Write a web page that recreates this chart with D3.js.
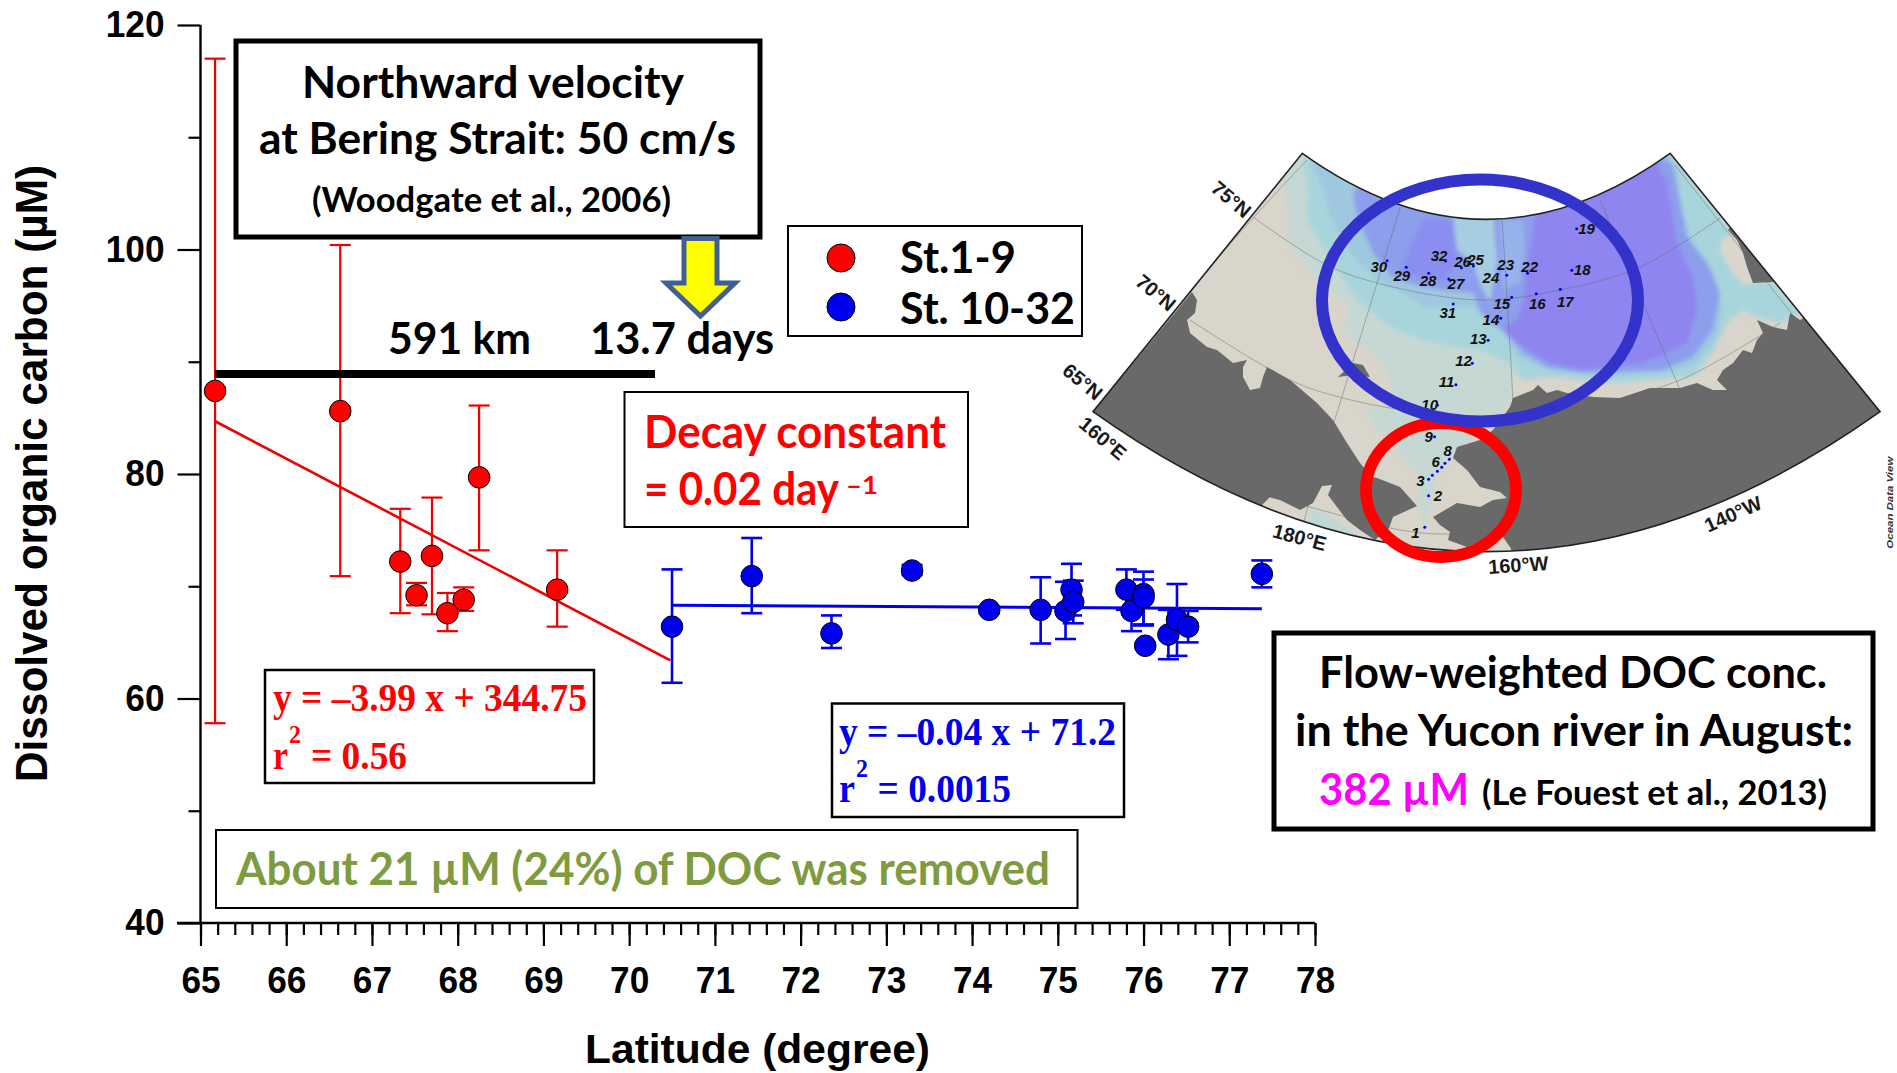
<!DOCTYPE html>
<html><head><meta charset="utf-8">
<script src="https://cdnjs.cloudflare.com/ajax/libs/d3/7.8.5/d3.min.js"></script>
<style>html,body{margin:0;background:#fff}svg{display:block}</style></head>
<body><svg id="c" width="1897" height="1073"></svg>
<script>
const redLat=[65.17,66.63,67.33,67.52,67.7,67.88,68.07,68.25,69.16];
const redDoc=[87.4,85.6,72.2,69.2,72.7,67.6,68.8,79.7,69.7];
const redLow=[57.8,70.9,67.6,68.3,67.5,66.0,67.8,73.2,66.4];
const redHigh=[117.0,100.4,76.9,70.3,77.9,69.4,69.9,86.1,73.2];
const blueLat=[70.5,71.43,72.36,73.3,74.2,74.8,75.09,75.16,75.18,75.8,75.86,76.0,76.0,76.02,76.29,76.39,76.52,77.38];
const blueDoc=[66.4,70.9,65.8,71.4,67.9,67.9,67.8,69.7,68.6,69.7,67.8,69.3,69.0,64.7,65.7,67.0,66.4,71.1];
const blueLow=[61.4,67.6,64.5,71.0,67.6,64.9,65.3,67.4,66.7,67.9,66.0,66.6,66.5,64.5,63.5,63.8,65.0,69.9];
const blueHigh=[71.5,74.3,67.4,71.9,68.2,70.8,70.4,72.0,70.5,71.5,69.5,71.3,70.6,64.9,67.9,70.2,67.8,72.3];
const redFit=[[65.17,84.7],[70.48,63.4]];
const blueFit=[[70.5,68.3],[77.38,68.0]];
const xTicks=d3.range(65,79), xMinor=d3.range(65,78.01,0.2);
const yTicks=[40,60,80,100,120], yMinor=[50,70,90,110];
const legendItems=["St.1-9","St. 10-32"];

// inset map geometry (page pixels)
const fanPath="M480,70 Q816,466 1153,70 L1537,845 Q817,1685 97,845 Z";
const paleShelf=[[1303,153],[1283,180],[1287,213],[1290,247],[1317,280],[1350,307],[1343,330],[1383,363],[1393,390],[1395,405],[1363,410],[1387,440],[1420,477],[1417,500],[1425,527],[1433,500],[1437,477],[1453,453],[1480,437],[1510,403],[1513,383],[1530,350],[1500,150]];
const paleSW=[[1313,507],[1360,537],[1330,548],[1307,530]];
const teal=[[1303,160],[1308,193],[1307,220],[1330,260],[1357,300],[1390,327],[1423,340],[1457,347],[1480,350],[1510,363],[1523,380],[1550,377],[1580,380],[1613,383],[1653,380],[1693,377],[1713,353],[1727,323],[1743,310],[1757,317],[1780,323],[1800,313],[1773,282],[1753,283],[1743,273],[1727,250],[1730,230],[1713,207],[1670,153],[1500,130]];
const paleBlue=[[1310,160],[1323,187],[1330,217],[1353,257],[1380,283],[1410,297],[1423,307],[1473,307],[1487,323],[1500,330],[1517,357],[1547,370],[1613,377],[1667,373],[1697,363],[1717,337],[1723,307],[1713,270],[1693,243],[1683,213],[1677,170],[1670,153],[1500,130]];
const midBlue=[[1353,193],[1357,217],[1373,253],[1393,278],[1423,287],[1443,290],[1473,293],[1480,310],[1490,323],[1503,330],[1523,353],[1547,367],[1580,373],[1663,370],[1693,357],[1713,330],[1720,293],[1707,263],[1687,237],[1680,200],[1672,163],[1600,130],[1400,130]];
const deepLeft=[[1423,220],[1410,247],[1400,273],[1443,280],[1457,263],[1453,220]];
const paleCentre=[[1453,215],[1457,250],[1473,263],[1480,283],[1490,303],[1497,260],[1493,215]];
const centreRight=[[1500,220],[1503,290],[1520,283],[1525,250],[1523,220]];
const purple=[[1537,205],[1530,250],[1523,303],[1517,320],[1503,330],[1523,347],[1550,363],[1583,370],[1640,363],[1660,357],[1687,343],[1697,310],[1693,277],[1677,243],[1667,183],[1650,150],[1560,170]];
const coastBeige=[[1723,237],[1720,250],[1733,273],[1745,285],[1753,283],[1747,267],[1737,240]];
const westLand=[[1050,412],[1093,412],[1192,292],[1197,300],[1195,313],[1187,320],[1190,333],[1207,347],[1217,350],[1233,363],[1247,360],[1243,367],[1243,377],[1250,390],[1260,388],[1263,377],[1267,367],[1290,380],[1317,403],[1333,420],[1347,443],[1360,463],[1372,477],[1377,478],[1400,487],[1417,506],[1393,517],[1389,528],[1375,540],[1360,530],[1347,520],[1337,507],[1328,495],[1332,485],[1322,486],[1313,503],[1300,510],[1280,500],[1270,497],[1262,505],[1262,620],[1050,620]];
const eastLand=[[1510,407],[1513,398],[1533,390],[1538,385],[1547,393],[1557,390],[1567,393],[1593,397],[1620,398],[1650,388],[1680,388],[1697,383],[1713,390],[1727,390],[1717,380],[1723,370],[1733,363],[1743,350],[1752,353],[1757,340],[1763,333],[1757,320],[1773,327],[1787,330],[1790,313],[1800,320],[1805,317],[1880,412],[1950,412],[1950,620],[1513,620],[1513,553],[1510,547],[1503,537],[1487,538],[1467,547],[1448,540],[1450,532],[1440,525],[1433,517],[1457,503],[1480,507],[1493,500],[1507,498],[1500,492],[1480,487],[1467,470],[1453,458],[1457,447],[1480,440],[1493,430]];
const eastLand2=[[1728,230],[1737,240],[1743,253],[1747,267],[1753,283],[1773,282],[1800,270],[1750,200]];
const wrangel=[[1338,377],[1353,363],[1363,365],[1370,377],[1353,375]];
const parallels=[
 [[1253,217],[1323,263],[1377,283],[1480,300],[1560,290],[1640,267],[1720,218]],
 [[1190,320],[1290,380],[1343,398],[1423,413],[1500,418],[1580,407],[1680,380],[1780,323]],
 [[1105,398],[1220,480],[1310,507],[1413,532],[1480,533],[1580,523],[1700,490],[1800,450],[1870,400]]];
const meridians=[[[1400,208],[1377,283],[1340,403],[1307,510],[1300,540]],[[1502,220],[1512,383],[1518,547]],[[1600,200],[1643,303],[1693,420],[1726,498]],[[1307,160],[1190,293],[1120,413]],[[1675,165],[1865,407]]];
const stationLabels=["19","32","26","25","23","22","18","30","29","28","27","24","15","16","17","31","14","13","12","11","10","9","8","6","3","2","1"];
const labelX=[1000,730,773,797,852,896,992,620,662,710,761,825,845,910,961,746,825,802,775,744,713,711,746,724,696,728,687];
const labelY=[295,377,394,387,403,408,418,410,436,452,460,442,521,521,513,547,569,626,692,755,823,919,960,994,1051,1096,1207];
const dotX=[982,742,771,793,854,892,973,635,670,711,748,863,908,952,756,843,820,791,761,727,722,749,741,735,727,718,711,711,704];
const dotY=[296,393,413,408,436,430,421,392,412,430,447,502,491,478,522,565,631,700,764,826,920,988,1000,1012,1024,1036,1048,1097,1192];
const mapLabels=["75°N","70°N","65°N","160°E","180°E","160°W","140°W"];
const mapLabelX=[350,212,78,115,475,875,1268];
const mapLabelY=[208,488,755,925,1222,1305,1152];
const mapLabelRot=[40,40,40,40,15,-4,-24];

const svg=d3.select("#c");
const x=d3.scaleLinear().domain([65,78]).range([200.5,1315]);
const y=d3.scaleLinear().domain([40,120]).range([923,25]);
const mx=d3.scaleLinear().domain([0,1568]).range([1040,1897]);
const my=d3.scaleLinear().domain([0,1410]).range([130,600]);
const SANS="'Liberation Sans',Arial,sans-serif", CAL="Lato,'Open Sans',sans-serif", SER="'Liberation Serif',serif";

function txt(s,x0,x1,base,size,opt={}){
  return svg.append("text").attr("x",x0).attr("y",base).attr("textLength",x1-x0).attr("lengthAdjust","spacingAndGlyphs")
   .attr("font-family",opt.font||CAL).attr("font-weight",opt.weight||"bold").attr("font-size",size).attr("fill",opt.fill||"#000").text(s);
}
function box(x0,y0,x1,y1,sw){svg.append("rect").attr("x",x0).attr("y",y0).attr("width",x1-x0).attr("height",y1-y0).attr("fill","#fff").attr("stroke","#000").attr("stroke-width",sw);}

// ---- map
const defs=svg.append("defs");
const mapT=`translate(${mx(0)},${my(0)}) scale(${mx(1)-mx(0)},${my(1)-my(0)})`;
defs.append("clipPath").attr("id","fan").append("path").attr("d",fanPath).attr("transform",mapT);
defs.append("filter").attr("id","sb").attr("x","-5%").attr("y","-5%").attr("width","110%").attr("height","110%").append("feGaussianBlur").attr("stdDeviation",2);
defs.append("filter").attr("id","lb").attr("x","-5%").attr("y","-5%").attr("width","110%").attr("height","110%").append("feGaussianBlur").attr("stdDeviation",0.5);
const mapG=svg.append("g").attr("clip-path","url(#fan)");
const poly=d3.line().curve(d3.curveLinearClosed);
const open=d3.line().curve(d3.curveCatmullRom.alpha(.5));
mapG.append("path").attr("d",fanPath).attr("transform",mapT).attr("fill","#d9d5cb");
const seaG=mapG.append("g").attr("filter","url(#sb)");
[[paleShelf,"#c6d8d3"],[paleSW,"#bcd9d6"],[teal,"#a8d5dc"],[paleBlue,"#9fc8e0"],[midBlue,"#8c9eec"],[paleCentre,"#a6cde2"],[centreRight,"#96b2ea"],[deepLeft,"#8a8ef0"],[purple,"#8f85f0"]]
 .forEach(([p,c])=>seaG.append("path").attr("d",poly(p)).attr("fill",c));
seaG.append("path").attr("d",poly(coastBeige)).attr("fill","#dcd6cd");
const landG=mapG.append("g").attr("filter","url(#lb)");
[westLand,eastLand,eastLand2,wrangel].forEach(p=>landG.append("path").attr("d",poly(p)).attr("fill","#696969"));
[...parallels,...meridians].forEach(p=>mapG.append("path").attr("d",open(p)).attr("fill","none").attr("stroke","#666").attr("stroke-opacity",.5).attr("stroke-width",.9));
svg.append("path").attr("d",fanPath).attr("transform",mapT).attr("fill","none").attr("stroke","#222").attr("stroke-width",1.6).attr("vector-effect","non-scaling-stroke");
svg.append("g").selectAll("circle").data(dotX).join("circle").attr("cx",d=>mx(d)).attr("cy",(d,i)=>my(dotY[i])).attr("r",1.5).attr("fill","#0000e0");
svg.append("g").selectAll("text").data(stationLabels).join("text").attr("x",(d,i)=>mx(labelX[i])).attr("y",(d,i)=>my(labelY[i])+5.5)
 .attr("text-anchor","middle").attr("font-family",SANS).attr("font-style","italic").attr("font-weight","bold").attr("font-size",15).attr("fill","#111").text(d=>d);
svg.append("g").selectAll("text").data(mapLabels).join("text")
 .attr("transform",(d,i)=>`translate(${mx(mapLabelX[i])},${my(mapLabelY[i])}) rotate(${mapLabelRot[i]})`).attr("dy",7)
 .attr("text-anchor","middle").attr("font-family",SANS).attr("font-weight","bold").attr("font-size",20).attr("fill","#1a1a1a").text(d=>d);
svg.append("text").attr("transform",`translate(${mx(1561)},${my(1118)}) rotate(-90)`).attr("text-anchor","middle").attr("font-family",SANS).attr("font-style","italic").attr("font-weight","bold").attr("font-size",9).attr("textLength",92).attr("lengthAdjust","spacingAndGlyphs").attr("fill","#333").text("Ocean Data View");
svg.append("ellipse").attr("cx",1441).attr("cy",490).attr("rx",75).attr("ry",67).attr("fill","none").attr("stroke","#ff0000").attr("stroke-width",12);
svg.append("ellipse").attr("cx",1480).attr("cy",300.5).attr("rx",158).attr("ry",121).attr("fill","none").attr("stroke","#3333cc").attr("stroke-width",12);

// ---- axes
const gy=svg.append("g").attr("transform","translate(200.5,0)")
 .call(d3.axisLeft(y).tickValues(yTicks).tickSize(23).tickPadding(13).tickFormat(d3.format("d")));
const gyM=svg.append("g").attr("transform","translate(200.5,0)").call(d3.axisLeft(y).tickValues(yMinor).tickSize(12).tickFormat(""));
const gx=svg.append("g").attr("transform","translate(0,923)")
 .call(d3.axisBottom(x).tickValues(xTicks).tickSize(23).tickPadding(21).tickFormat(d3.format("d")));
const gxM=svg.append("g").attr("transform","translate(0,923)").call(d3.axisBottom(x).tickValues(xMinor).tickSize(12).tickFormat(""));
[gy,gyM,gx,gxM].forEach(g=>{g.selectAll("path").attr("stroke","#000").attr("stroke-width",2.4).attr("d",null);g.selectAll("line").attr("stroke","#000").attr("stroke-width",2.2);});
gy.select("path").attr("d",`M0,${y(120)}V${y(40)}`);
gx.select("path").attr("d",`M177,0H${x(78)}`);
[gy,gx].forEach(g=>g.selectAll("text").attr("font-family",SANS).attr("font-weight","bold").attr("font-size",37).attr("fill","#000")
  .attr("textLength",function(){return this.textContent.length*19.6;}).attr("lengthAdjust","spacingAndGlyphs"));
txt("Latitude (degree)",585,930,1063,40,{font:SANS});
svg.append("text").attr("transform","translate(47,782) rotate(-90)").attr("textLength",617).attr("lengthAdjust","spacingAndGlyphs")
 .attr("font-family",SANS).attr("font-weight","bold").attr("font-size",44).text("Dissolved organic carbon (µM)");

// ---- series
function series(lat,doc,lo,hi,col,sw){
  const g=svg.append("g").attr("stroke",col).attr("stroke-width",sw);
  g.selectAll(".v").data(lat).join("line").attr("x1",d=>x(d)).attr("x2",d=>x(d)).attr("y1",(d,i)=>y(lo[i])).attr("y2",(d,i)=>y(hi[i]));
  g.selectAll(".t").data(lat).join("line").attr("x1",d=>x(d)-10.5).attr("x2",d=>x(d)+10.5).attr("y1",(d,i)=>y(hi[i])).attr("y2",(d,i)=>y(hi[i]));
  g.selectAll(".b").data(lat).join("line").attr("x1",d=>x(d)-10.5).attr("x2",d=>x(d)+10.5).attr("y1",(d,i)=>y(lo[i])).attr("y2",(d,i)=>y(lo[i]));
}
function dots(lat,doc,col){svg.append("g").selectAll("circle").data(lat).join("circle").attr("cx",d=>x(d)).attr("cy",(d,i)=>y(doc[i])).attr("r",10.8).attr("fill",col).attr("stroke","#000").attr("stroke-width",1);}
const fitLine=d3.line().x(d=>x(d[0])).y(d=>y(d[1]));
series(redLat,redDoc,redLow,redHigh,"#f00000",2.2);
series(blueLat,blueDoc,blueLow,blueHigh,"#0000ee",2.6);
svg.append("path").attr("d",fitLine(redFit)).attr("fill","none").attr("stroke","#f00000").attr("stroke-width",2.6);
svg.append("path").attr("d",fitLine(blueFit)).attr("fill","none").attr("stroke","#0000ee").attr("stroke-width",3);
dots(redLat,redDoc,"#ff0000");
dots(blueLat,blueDoc,"#0000ee");

// ---- annotations
box(236,41,760,237,5);
txt("Northward velocity",302,684,98,44);
txt("at Bering Strait: 50 cm/s",259,736,154,44);
txt("(Woodgate et al., 2006)",312,671,212,35);
svg.append("path").attr("d","M684,238.5H717V283H735L700.5,316L666,283H684Z").attr("fill","#ffff00").attr("stroke","#41608f").attr("stroke-width",5);
svg.append("line").attr("x1",215).attr("x2",655).attr("y1",374).attr("y2",374).attr("stroke","#000").attr("stroke-width",8);
txt("591 km",388,531,354,44);
txt("13.7 days",590,774,354,44);
box(788,226,1082,336,2);
[258,307].forEach((cy,i)=>svg.append("circle").attr("cx",841).attr("cy",cy).attr("r",14).attr("fill",i?"#0000ee":"#ff0000").attr("stroke","#000").attr("stroke-width",1));
txt(legendItems[0],900,1016,273,43);
txt(legendItems[1],900,1075,324,43);
box(624.5,392,968,527,2);
txt("Decay constant",644,946,448,45,{fill:"#ff0000"});
txt("= 0.02 day",644,839,505,45,{fill:"#ff0000"});
txt("–1",846,878,494,25,{fill:"#ff0000"});
box(265,670,594,783,2.5);
txt("y = –3.99 x + 344.75",273,587,711,40,{font:SER,fill:"#ff0000"});
txt("r",273,288,769,40,{font:SER,fill:"#ff0000"});
txt("2",289,301,743,25,{font:SER,fill:"#ff0000"});
txt("= 0.56",311,407,769,40,{font:SER,fill:"#ff0000"});
box(832,703.5,1124,817,2.5);
txt("y = –0.04 x + 71.2",839,1116,745,40,{font:SER,fill:"#0000ee"});
txt("r",839,855,801.5,40,{font:SER,fill:"#0000ee"});
txt("2",856,868,777,25,{font:SER,fill:"#0000ee"});
txt("= 0.0015",877.5,1011,801.5,40,{font:SER,fill:"#0000ee"});
box(216,830,1077.5,908,2);
txt("About 21 µM (24%) of DOC was removed",236,1050,885,45,{fill:"#7f9b40"});
box(1274,633,1873,829,5);
txt("Flow-weighted DOC conc.",1319,1827,688,43);
txt("in the Yucon river in August:",1295,1853,746,43);
txt("382 µM",1319,1469,805,44,{fill:"#ff00ff"});
txt("(Le Fouest et al., 2013)",1482,1827,805,34);
</script></body></html>
